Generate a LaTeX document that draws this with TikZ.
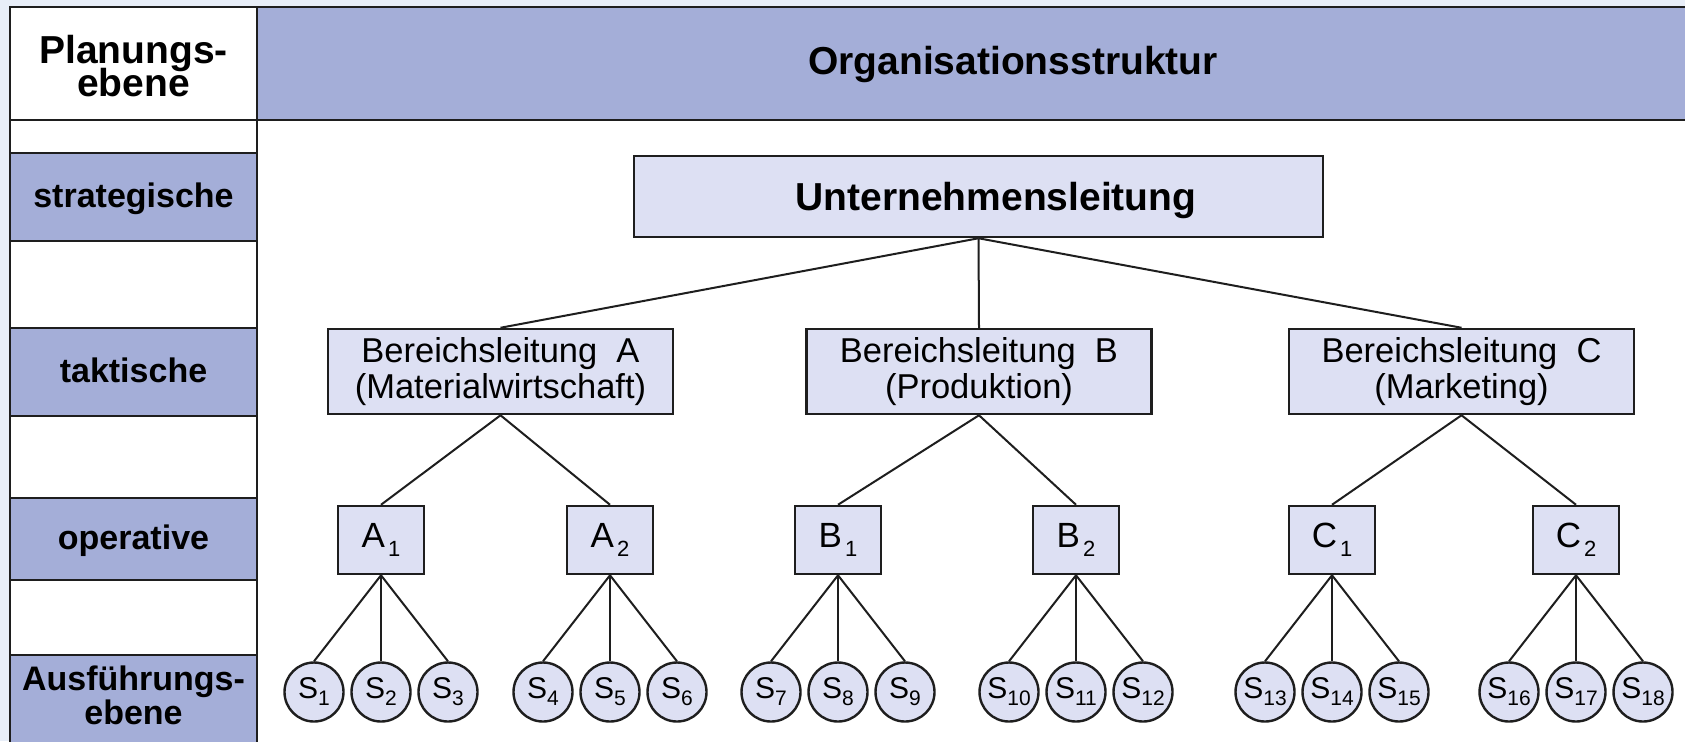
\documentclass[tikz,border=0pt]{standalone}
\usepackage{fontspec}
\setmainfont{Liberation Sans}
\definecolor{bgC}{HTML}{E8EEF8}
\definecolor{hdrC}{HTML}{A4AED8}
\definecolor{boxC}{HTML}{DDE0F3}
\definecolor{gridC}{HTML}{1E1E1E}
% letter with a lowered index, for the unit boxes and the circles
\newcommand{\opl}[2]{#1\kern1.5pt\raisebox{-4.5pt}{\fontsize{11}{11}\selectfont #2}}
\newcommand{\stl}[2]{#1\raisebox{-3.5pt}{\fontsize{10.5}{10.5}\selectfont #2}}
\begin{document}
\begin{tikzpicture}[x=0.5pt,y=-0.5pt,
  grid/.style={draw=gridC,line width=1.4pt},
  lvl/.style={font=\fontsize{17}{17}\selectfont\bfseries,anchor=base,inner sep=0},
  head/.style={font=\fontsize{19.5}{19.5}\selectfont\bfseries,anchor=base,inner sep=0},
  topbox/.style={draw=gridC,line width=1.25pt,fill=boxC,rectangle,inner sep=0,
    minimum width=344.5pt,minimum height=40.5pt},
  areabox/.style={draw=gridC,line width=1.25pt,fill=boxC,rectangle,inner sep=0,
    minimum width=172.5pt,minimum height=42.5pt,align=center,
    font=\fontsize{17.25}{18}\selectfont},
  unitbox/.style={draw=gridC,line width=1.25pt,fill=boxC,rectangle,inner sep=0,
    minimum width=43pt,minimum height=34pt,font=\fontsize{17.5}{17.5}\selectfont},
  stelle/.style={draw=gridC,line width=1.2pt,fill=boxC,circle,inner sep=0,
    minimum size=29.5pt,font=\fontsize{15}{15}\selectfont},
  link/.style={draw=gridC,line width=1pt}]

\useasboundingbox (0,0) rectangle (1685,741);
\fill[bgC] (0,0) rectangle (1685,741);
\clip (0,0) rectangle (1685,741);

% table body and shaded cells
\fill[white] (10,7) rectangle (1700,760);
\fill[hdrC] (257,7) rectangle (1700,120);
\fill[hdrC] (10,153) rectangle (257,241);
\fill[hdrC] (10,328) rectangle (257,416);
\fill[hdrC] (10,498) rectangle (257,580);
\fill[hdrC] (10,655) rectangle (257,760);

% table rules
\draw[grid] (10,760) -- (10,7) -- (1700,7);
\draw[grid] (257,7) -- (257,760);
\draw[grid] (10,120) -- (1700,120);
\foreach \r in {153,241,328,416,498,580,655}
  \draw[grid] (10,\r) -- (257,\r);

% level labels
\node[head] (plan1) at (133.5,63) {Planungs-};
\node[head] (plan2) at (133.5,96) {ebene};
\node[head] (title) at (1013,74) {Organisationsstruktur};
\node[lvl] (strat) at (133.5,207) {strategische};
\node[lvl] (takt) at (133.5,382) {taktische};
\node[lvl] (oper) at (133.5,549) {operative};
\node[lvl] (ausf1) at (133.5,690) {Ausführungs-};
\node[lvl] (ausf2) at (133.5,724) {ebene};

% hierarchy
\node[topbox] (ul) at (978.5,196.5) {};
\node[head] (ultext) at (996,210) {Unternehmensleitung};

\node[areabox] (ba) at (500.5,371.5) {Bereichsleitung~~A\\(Materialwirtschaft)};
\node[areabox] (bb) at (979,371.5) {Bereichsleitung~~B\\(Produktion)};
\node[areabox] (bc) at (1461.5,371.5) {Bereichsleitung~~C\\(Marketing)};

\draw[link] (ul.south) -- (ba.north);
\draw[link] (ul.south) -- (bb.north);
\draw[link] (ul.south) -- (bc.north);

\node[unitbox] (a1) at (381,540) {\opl{A}{1}};
\node[unitbox] (a2) at (610,540) {\opl{A}{2}};
\node[unitbox] (b1) at (838,540) {\opl{B}{1}};
\node[unitbox] (b2) at (1076,540) {\opl{B}{2}};
\node[unitbox] (c1) at (1332,540) {\opl{C}{1}};
\node[unitbox] (c2) at (1576,540) {\opl{C}{2}};

\foreach \u/\b in {a1/ba,a2/ba,b1/bb,b2/bb,c1/bc,c2/bc}
  \draw[link] (\b.south) -- (\u.north);

% positions at the execution level
\foreach \p/\x [count=\i from 0] in {a1/381,a2/610,b1/838,b2/1076,c1/1332,c2/1576}{
  \foreach \d [count=\k] in {-67,0,67}{
    \pgfmathtruncatemacro{\n}{3*\i+\k}
    \node[stelle] (s\n) at (\x+\d,692) {\stl{S}{\n}};
    \draw[link] (\p.south) -- (s\n.north);
  }
}
\end{tikzpicture}
\end{document}
